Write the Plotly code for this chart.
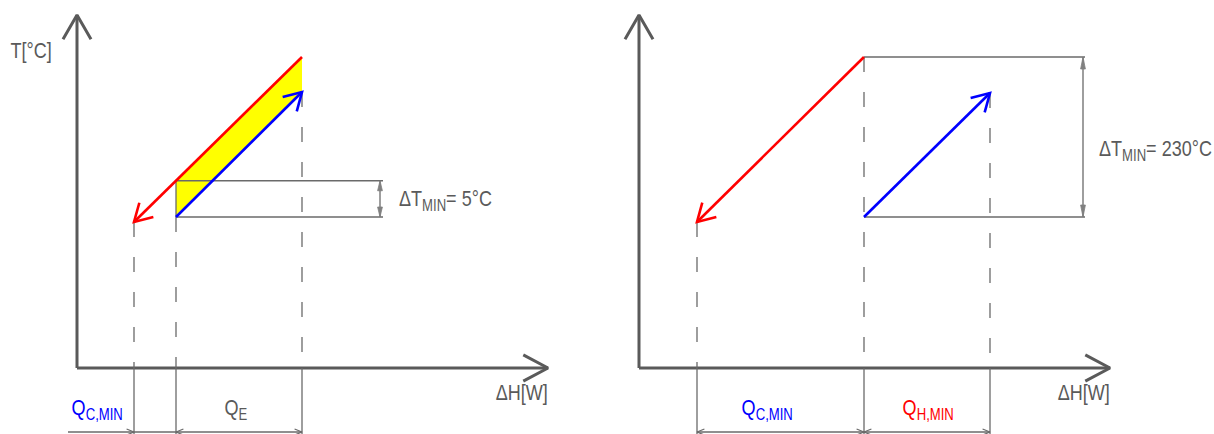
import json
import math
import numpy as np
import plotly.graph_objects as go

# ---------------------------------------------------------------------------
# Schematic T–ΔH diagrams (composite-curve sketch). Units are arbitrary
# drawing units measured from each diagram's axis origin.
# ---------------------------------------------------------------------------

# Left diagram: overlapping streams, ΔT_min = 5 °C
left_hot_H = [225, 57]      # hot stream, drawn from start (top) to end (arrow)
left_hot_T = [311, 146]
left_cold_H = [99, 225]     # cold stream, start -> end (arrow)
left_cold_T = [151, 276]
left_dT_label = ("ΔT", "MIN", "= 5°C")
left_q_labels = [("Q", "C,MIN"), ("Q", "E")]

# Right diagram: no heat exchange, ΔT_min = 230 °C
right_hot_H = [225, 58]
right_hot_T = [311, 146]
right_cold_H = [225, 351]
right_cold_T = [151, 275]
right_dT_label = ("ΔT", "MIN", "= 230°C")
right_q_labels = [("Q", "C,MIN"), ("Q", "H,MIN")]

axis_labels = ["T[°C]", "ΔH[W]"]

# ---------------------------------------------------------------------------
GREY = "#5a5a5a"
DIM = "#6a6a6a"
RED = "#ff0000"
BLUE = "#0000ff"
FONT = "Liberation Sans, Arial, sans-serif"
NARROW = 0.82       # horizontal condensing applied to every label

AX_TOP = 353        # end of the T axis arrow
AX_RIGHT = 471      # end of the ΔH axis arrow
DIM_Y = -64         # level of the bottom dimension line
BOTTOM = -66        # lower edge of the drawing

fig = go.Figure()


def line(xs, ys, ax, color=DIM, width=1.3, dash=None):
    fig.add_trace(go.Scatter(
        x=xs, y=ys, xaxis=ax, yaxis="y", mode="lines",
        line=dict(color=color, width=width, dash=dash),
        hoverinfo="skip", showlegend=False))


def chevron(tip, frm, ax, color, length, half_deg, width):
    """Open arrowhead at `tip`, for a line arriving from point `frm`."""
    dx, dy = tip[0] - frm[0], tip[1] - frm[1]
    ang = math.atan2(dy, dx) + math.pi
    h = math.radians(half_deg)
    xs = [tip[0] + length * math.cos(ang + h), tip[0],
          tip[0] + length * math.cos(ang - h)]
    ys = [tip[1] + length * math.sin(ang + h), tip[1],
          tip[1] + length * math.sin(ang - h)]
    line(xs, ys, ax, color=color, width=width)


def solid_head(tip, frm, ax, color, length, half_w):
    dx, dy = tip[0] - frm[0], tip[1] - frm[1]
    n = math.hypot(dx, dy)
    ux, uy = dx / n, dy / n
    bx, by = tip[0] - ux * length, tip[1] - uy * length
    xs = [tip[0], bx - uy * half_w, bx + uy * half_w, tip[0]]
    ys = [tip[1], by + ux * half_w, by - ux * half_w, tip[1]]
    fig.add_trace(go.Scatter(
        x=xs, y=ys, xaxis=ax, yaxis="y", mode="lines", fill="toself",
        fillcolor=color, line=dict(color=color, width=0.8),
        hoverinfo="skip", showlegend=False))


def axes(ax):
    line([0, 0], [0, AX_TOP], ax, color=GREY, width=3)
    line([0, AX_RIGHT], [0, 0], ax, color=GREY, width=3)
    chevron((0, AX_TOP), (0, 0), ax, GREY, 28, 30, 3)
    chevron((AX_RIGHT, 0), (0, 0), ax, GREY, 28, 28, 3)


def stream(H, T, ax, color):
    line(H, T, ax, color=color, width=2.6)
    chevron((H[1], T[1]), (H[0], T[0]), ax, color, 20, 30, 2.6)


def ext_line(h, t_top, ax, solid_to=None):
    """Dashed extension line from a curve end down to the axis, solid below."""
    top = t_top
    if solid_to is not None:
        line([h, h], [t_top, solid_to], ax)
        top = solid_to
    line([h, h], [top, 0], ax, dash="15px,20px")
    line([h, h], [0, BOTTOM], ax)


def dim_h(h_list, ax, heads):
    """Bottom dimension line with open arrowheads; heads = (pos, direction)."""
    line([h_list[0], h_list[-1]], [DIM_Y, DIM_Y], ax)
    for pos, d in heads:
        chevron((pos, DIM_Y), (pos - d, DIM_Y), ax, DIM, 8, 22, 1.2)


def dim_v(h, t0, t1, ax, head_len):
    line([h, h], [t0, t1], ax)
    solid_head((h, t1), (h, t0), ax, "#808080", head_len, 2.4)
    solid_head((h, t0), (h, t1), ax, "#808080", head_len, 2.4)


def with_sub(parts, sub_size=16):
    main, sub = parts[0], parts[1]
    tail = parts[2] if len(parts) > 2 else ""
    return (f"{main}<sub><span style='font-size:{sub_size}px'>{sub}</span></sub>"
            f"{tail}")


annotations = []


def text(x, y, s, ax, color=GREY, xanchor="center", size=22):
    annotations.append(dict(
        x=x, y=y, xref=ax, yref="y", text=s, showarrow=False,
        xanchor=xanchor, yanchor="middle",
        font=dict(family=FONT, size=size, color=color)))


# ------------------------------- left diagram ------------------------------
hot_at_cold_start = float(np.interp(left_cold_H[0], left_hot_H[::-1], left_hot_T[::-1]))
cold_at_hot_start = float(np.interp(left_hot_H[0], left_cold_H, left_cold_T))

# overlap region between the two streams
fig.add_trace(go.Scatter(
    x=[left_cold_H[0], left_hot_H[0], left_hot_H[0], left_cold_H[0]],
    y=[hot_at_cold_start, left_hot_T[0], cold_at_hot_start, left_cold_T[0]],
    xaxis="x", yaxis="y", mode="lines", fill="toself", fillcolor="#ffff00",
    line=dict(width=0), hoverinfo="skip", showlegend=False))

axes("x")
L_ext = left_hot_H[0] + 81
line([left_cold_H[0], L_ext], [hot_at_cold_start] * 2, "x")
line([left_cold_H[0], L_ext], [left_cold_T[0]] * 2, "x")
dim_v(L_ext - 3, left_cold_T[0], hot_at_cold_start, "x", 10)

ext_line(left_hot_H[1], left_hot_T[1], "x")
ext_line(left_cold_H[0], hot_at_cold_start, "x", solid_to=left_cold_T[0])
ext_line(left_hot_H[0], left_cold_T[1], "x")

dim_h([-9, left_hot_H[0]], "x",
      [(left_hot_H[1], 1), (left_cold_H[0], -1), (left_hot_H[0], 1)])

stream(left_hot_H, left_hot_T, "x", RED)
stream(left_cold_H, left_cold_T, "x", BLUE)

text(L_ext + 14, 168, with_sub(left_dT_label), "x", xanchor="left")
text(20, -41, with_sub(left_q_labels[0]), "x", color=BLUE)
text(159, -41, with_sub(left_q_labels[1]), "x")
text(-46, 318, axis_labels[0], "x")
text(445, -24, axis_labels[1], "x")

# ------------------------------ right diagram ------------------------------
axes("x2")
R_ext = 446
line([right_hot_H[0], R_ext], [right_hot_T[0]] * 2, "x2")
line([right_cold_H[0], R_ext], [right_cold_T[0]] * 2, "x2")
dim_v(R_ext - 2, right_cold_T[0], right_hot_T[0], "x2", 12)

ext_line(right_hot_H[1], right_hot_T[1], "x2")
ext_line(right_hot_H[0], right_hot_T[0], "x2")
ext_line(right_cold_H[1], right_cold_T[1], "x2")

dim_h([right_hot_H[1], right_cold_H[1]], "x2",
      [(right_hot_H[1], -1), (right_hot_H[0], 1), (right_hot_H[0], -1),
       (right_cold_H[1], 1)])

stream(right_hot_H, right_hot_T, "x2", RED)
stream(right_cold_H, right_cold_T, "x2", BLUE)

text(R_ext + 12, 218, with_sub(right_dT_label), "x2", xanchor="left")
text(128, -41, with_sub(right_q_labels[0]), "x2", color=BLUE)
text(289, -41, with_sub(right_q_labels[1]), "x2", color=RED)
text(-46, 318, axis_labels[0], "x2")
text(445, -24, axis_labels[1], "x2")

# ---------------------------------------------------------------------------
hidden = dict(visible=False, showgrid=False, zeroline=False, fixedrange=True)
fig.update_layout(
    width=1214, height=434,
    margin=dict(l=0, r=0, t=0, b=0),
    paper_bgcolor="white", plot_bgcolor="white",
    showlegend=False, hovermode=False,
    xaxis=dict(domain=[0, 0.5], range=[-77, 530], **hidden),
    xaxis2=dict(domain=[0.5, 1], range=[-32, 575], anchor="y", **hidden),
    yaxis=dict(domain=[0, 1], range=[BOTTOM, 368], **hidden),
    annotations=annotations,
)

# Condense the label glyphs horizontally (narrow sans look), keeping each
# label anchored where it was placed.
origins = json.dumps(["left" if a["xanchor"] == "left" else "center"
                      for a in annotations])
condense_js = """
var gd = document.getElementById('{plot_id}');
var origins = %s;
gd.querySelectorAll('g.annotation').forEach(function (g) {
    var i = +g.getAttribute('data-index');
    var t = g.querySelector('text');
    if (!t) return;
    t.style.transformBox = 'fill-box';
    t.style.transformOrigin = origins[i] + ' center';
    t.style.transform = 'scaleX(%s)';
});
""" % (origins, NARROW)

fig.write_html("out.html", config={"displayModeBar": False},
               post_script=condense_js)
